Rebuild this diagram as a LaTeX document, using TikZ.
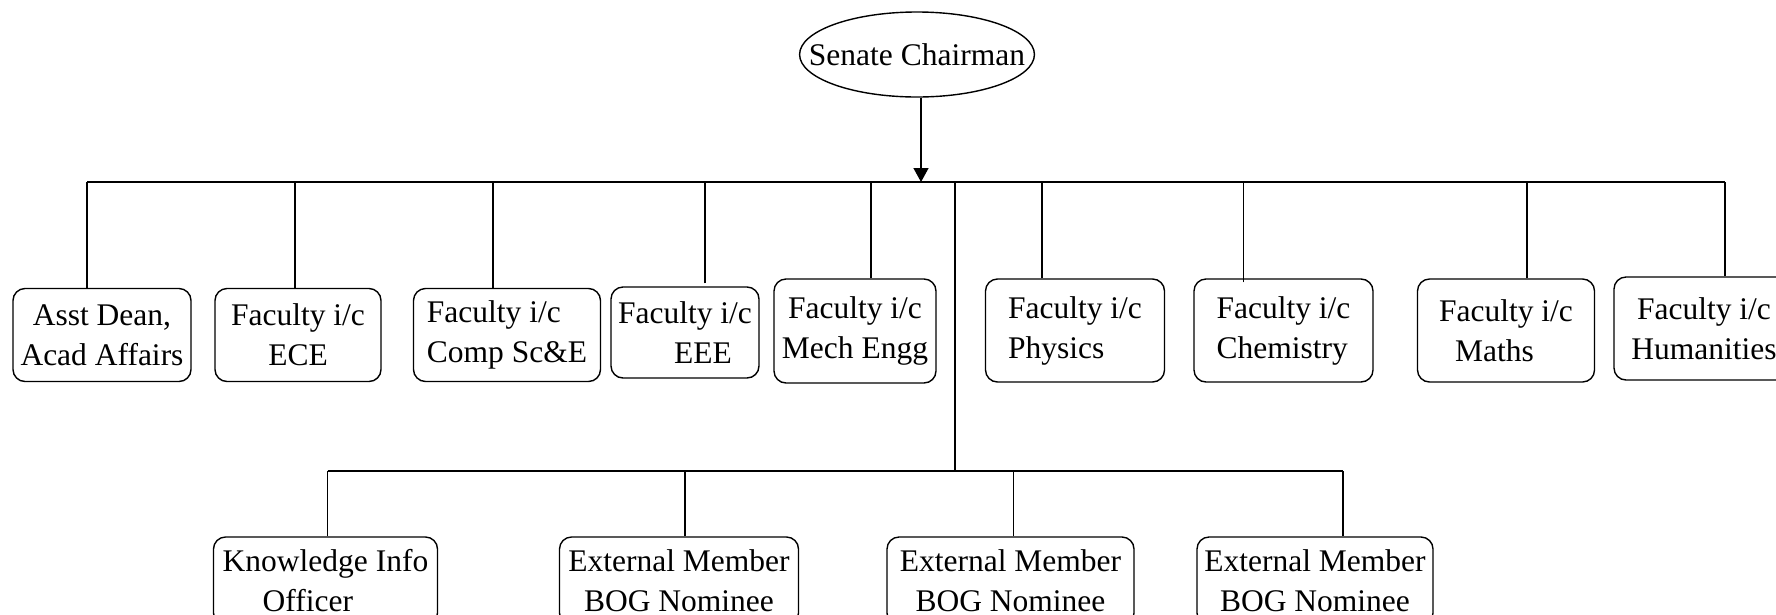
\documentclass[tikz,border=0pt]{standalone}
\usepackage{fontspec}
\setmainfont{Liberation Serif}
\usetikzlibrary{arrows.meta, shapes.geometric}

\begin{document}
\begin{tikzpicture}[
    x=1pt, y=-1pt,
    every node/.style={font=\fontsize{31.5}{40}\selectfont, inner sep=0pt},
    post/.style={draw, rounded corners=12pt, line width=1.4pt, align=center},
    head/.style={draw, ellipse, line width=1.4pt, inner xsep=-25pt, minimum width=233pt, minimum height=85pt},
    link/.style={line width=1.4pt},
    >={Triangle[width=15pt, length=14pt]}
]
\useasboundingbox (0,0) rectangle (1776,614);
\clip (0,0) rectangle (1776,614);

% Nodes
\node[head] (chair) at (917,54.5) {Senate Chairman};

\node[post, minimum width=178pt, minimum height=93pt] (dean) at (102,335) {Asst Dean,\\Acad Affairs};
\node[post, minimum width=166pt, minimum height=93pt] (ece) at (298,335) {Faculty i/c\\ECE};
\node[post, minimum width=187pt, minimum height=93pt, align=left] (cse) at (507,335) {Faculty i/c\\Comp Sc\&E};
\node[post, minimum width=148pt, minimum height=91pt] (eee) at (685,332.5) {Faculty i/c\\\hspace*{36pt}EEE};
\node[post, minimum width=162pt, minimum height=104pt] (mech) at (855,331) {Faculty i/c\\Mech Engg};
\node[post, minimum width=179pt, minimum height=103pt, align=left] (phy) at (1075,330.5) {Faculty i/c\\Physics};
\node[post, minimum width=179pt, minimum height=103pt, align=left] (chem) at (1283.5,330.5) {Faculty i/c\\Chemistry};
\node[post, minimum width=177pt, minimum height=103pt, align=left] (maths) at (1506,330.5) {Faculty i/c\\\hspace*{16pt}Maths};
\node[post, minimum width=180pt, minimum height=103pt] (hum) at (1704,328.5) {Faculty i/c\\Humanities};

\node[post, minimum width=224pt, minimum height=88pt, align=left] (kio) at (325.5,581) {Knowledge Info\\\hspace*{40pt}Officer};
\node[post, minimum width=239pt, minimum height=88pt] (ext1) at (679,581) {External Member\\BOG Nominee};
\node[post, minimum width=247pt, minimum height=88pt] (ext2) at (1010.5,581) {External Member\\BOG Nominee};
\node[post, minimum width=236pt, minimum height=88pt] (ext3) at (1315,581) {External Member\\BOG Nominee};

% Bus points
\coordinate (bus) at (921,182);
\coordinate (mid) at (955,182);
\coordinate (low) at (955,471);

% Arrows
\draw[->, link] (chair.south -| bus) -- (bus);
\draw[link] ([xshift=-15pt]dean.north |- bus) -- ([xshift=21pt]hum.north |- bus);
\draw[link] (mid) -- (low);
\draw[link] ([xshift=2pt]kio.north |- low) -- ([xshift=28pt]ext3.north |- low);

\draw[link] ([xshift=-15pt]dean.north) -- ([xshift=-15pt]dean.north |- bus);
\draw[link] ([xshift=-3pt]ece.north) -- ([xshift=-3pt]ece.north |- bus);
\draw[link] ([xshift=-14pt]cse.north) -- ([xshift=-14pt]cse.north |- bus);
\draw[link] ([xshift=20pt, yshift=3pt]eee.north) -- ([xshift=20pt]eee.north |- bus);
\draw[link] ([xshift=16pt]mech.north) -- ([xshift=16pt]mech.north |- bus);
\draw[link] ([xshift=-33pt]phy.north) -- ([xshift=-33pt]phy.north |- bus);
\draw[link] ([xshift=-40pt, yshift=-4pt]chem.north) -- ([xshift=-40pt]chem.north |- bus);
\draw[link] ([xshift=21pt]maths.north) -- ([xshift=21pt]maths.north |- bus);
\draw[link] ([xshift=21pt]hum.north) -- ([xshift=21pt]hum.north |- bus);

\draw[link] ([xshift=2pt]kio.north) -- ([xshift=2pt]kio.north |- low);
\draw[link] ([xshift=6pt]ext1.north) -- ([xshift=6pt]ext1.north |- low);
\draw[link] ([xshift=3pt]ext2.north) -- ([xshift=3pt]ext2.north |- low);
\draw[link] ([xshift=28pt]ext3.north) -- ([xshift=28pt]ext3.north |- low);

\end{tikzpicture}
\end{document}
